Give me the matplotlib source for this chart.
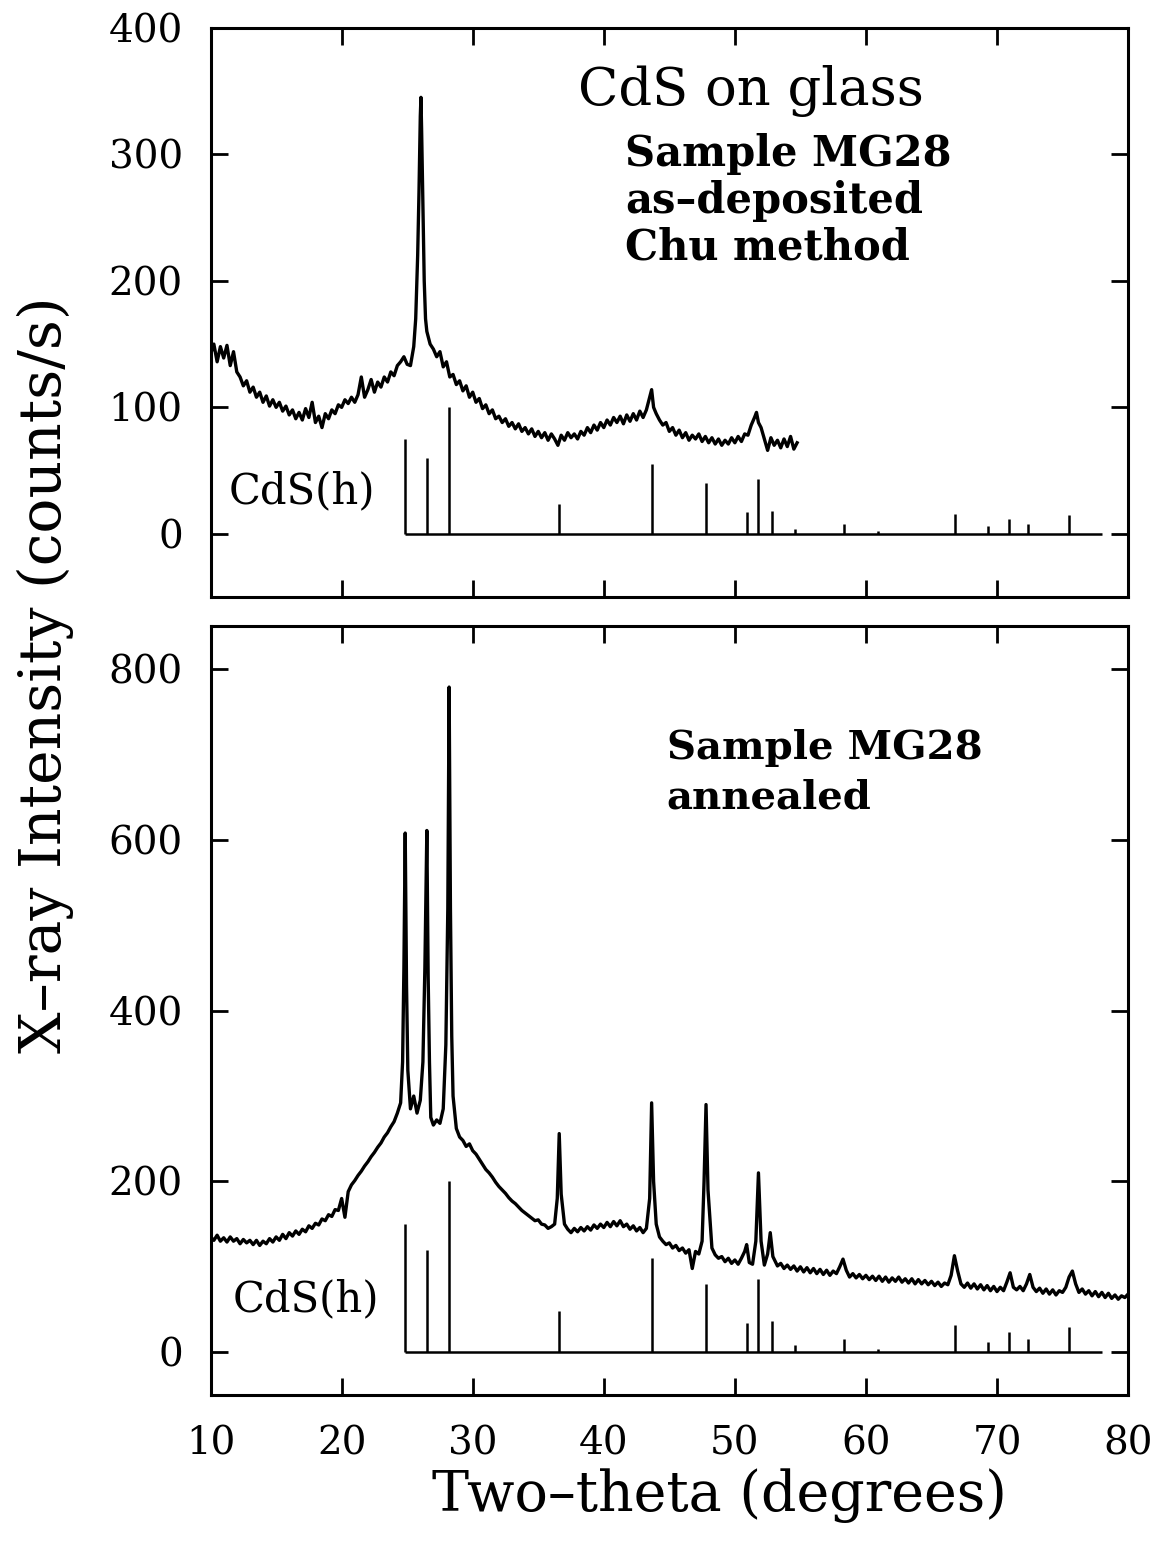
import numpy as np
import matplotlib
matplotlib.use("Agg")
import matplotlib.pyplot as plt

# CdS(h) reference pattern: positions (two-theta) and relative intensities
stick_pos = [24.8, 26.5, 28.2, 36.6, 43.7, 47.8, 50.9, 51.8, 52.8, 54.6,
             58.3, 60.9, 66.8, 69.3, 70.9, 72.4, 75.5]
stick_int = [75, 60, 100, 24, 55, 40, 17, 43, 18, 4,
             8, 2, 16, 6, 12, 8, 15]
stick_end = 78.0

# as-deposited scan (top panel)
top_tt = [10.0, 10.25, 10.5, 10.75, 11.0, 11.25, 11.5, 11.75, 12.0, 12.25,
          12.5, 12.75, 13.0, 13.25, 13.5, 13.75, 14.0, 14.25, 14.5, 14.75,
          15.0, 15.25, 15.5, 15.75, 16.0, 16.25, 16.5, 16.75, 17.0, 17.25,
          17.5, 17.75, 18.0, 18.25, 18.5, 18.75, 19.0, 19.25, 19.5, 19.75,
          20.0, 20.25, 20.5, 20.75, 21.0, 21.25, 21.5, 21.75, 22.0, 22.25,
          22.5, 22.75, 23.0, 23.25, 23.5, 23.75, 24.0, 24.25, 24.5, 24.75,
          25.0, 25.25, 25.5, 25.65, 25.8, 25.9, 26.0, 26.05, 26.1, 26.2,
          26.3, 26.4, 26.5, 26.75, 27.0, 27.25, 27.5, 27.75, 28.0, 28.25,
          28.5, 28.75, 29.0, 29.25, 29.5, 29.75, 30.0, 30.25, 30.5, 30.75,
          31.0, 31.25, 31.5, 31.75, 32.0, 32.25, 32.5, 32.75, 33.0, 33.25,
          33.5, 33.75, 34.0, 34.25, 34.5, 34.75, 35.0, 35.25, 35.5, 35.75,
          36.0, 36.25, 36.5, 36.75, 37.0, 37.25, 37.5, 37.75, 38.0, 38.25,
          38.5, 38.75, 39.0, 39.25, 39.5, 39.75, 40.0, 40.25, 40.5, 40.75,
          41.0, 41.25, 41.5, 41.75, 42.0, 42.25, 42.5, 42.75, 43.0, 43.25,
          43.5, 43.65, 43.8, 44.0, 44.25, 44.5, 44.75, 45.0, 45.25, 45.5,
          45.75, 46.0, 46.25, 46.5, 46.75, 47.0, 47.25, 47.5, 47.75, 48.0,
          48.25, 48.5, 48.75, 49.0, 49.25, 49.5, 49.75, 50.0, 50.25, 50.5,
          50.75, 51.0, 51.25, 51.5, 51.65, 51.8, 52.0, 52.25, 52.5, 52.75,
          53.0, 53.25, 53.5, 53.75, 54.0, 54.25, 54.5, 54.75]
top_cts = [142, 150, 136, 148, 139, 149, 133, 144, 128, 124,
           117, 121, 112, 116, 108, 112, 104, 109, 101, 106,
           100, 104, 97, 101, 94, 98, 91, 96, 90, 99,
           92, 104, 88, 93, 84, 95, 91, 98, 95, 102,
           100, 106, 103, 108, 104, 110, 124, 108, 114, 122,
           112, 120, 116, 124, 120, 128, 125, 133, 136, 140,
           134, 133, 148, 170, 220, 270, 330, 345, 320, 260,
           200, 170, 160, 150, 146, 140, 144, 132, 136, 124,
           126, 118, 121, 113, 117, 108, 112, 104, 107, 99,
           102, 95, 98, 91, 93, 88, 91, 85, 88, 83,
           87, 81, 84, 79, 83, 77, 81, 76, 80, 74,
           79, 75, 70, 78, 74, 80, 76, 79, 75, 81,
           78, 84, 80, 86, 82, 88, 84, 90, 86, 92,
           88, 93, 87, 94, 89, 95, 90, 97, 92, 98,
           108, 114, 100, 95, 90, 86, 88, 81, 84, 78,
           82, 76, 80, 74, 78, 75, 79, 73, 77, 72,
           76, 71, 75, 70, 74, 71, 76, 72, 77, 73,
           79, 78, 86, 92, 96, 88, 84, 75, 66, 76,
           70, 74, 68, 75, 69, 77, 67, 72]

# annealed scan (bottom panel)
bot_tt = [10.0, 10.25, 10.5, 10.75, 11.0, 11.25, 11.5, 11.75, 12.0, 12.25,
          12.5, 12.75, 13.0, 13.25, 13.5, 13.75, 14.0, 14.25, 14.5, 14.75,
          15.0, 15.25, 15.5, 15.75, 16.0, 16.25, 16.5, 16.75, 17.0, 17.25,
          17.5, 17.75, 18.0, 18.25, 18.5, 18.75, 19.0, 19.25, 19.5, 19.75,
          20.0, 20.25, 20.5, 20.75, 21.0, 21.25, 21.5, 21.75, 22.0, 22.25,
          22.5, 22.75, 23.0, 23.25, 23.5, 23.75, 24.0, 24.25, 24.5, 24.65,
          24.75, 24.85, 24.95, 25.05, 25.25, 25.5, 25.75, 26.0, 26.2, 26.35,
          26.5, 26.6, 26.7, 26.8, 27.0, 27.25, 27.5, 27.75, 27.95, 28.1,
          28.2, 28.3, 28.4, 28.5, 28.75, 29.0, 29.25, 29.5, 29.75, 30.0,
          30.25, 30.5, 30.75, 31.0, 31.25, 31.5, 31.75, 32.0, 32.25, 32.5,
          32.75, 33.0, 33.25, 33.5, 33.75, 34.0, 34.25, 34.5, 34.75, 35.0,
          35.25, 35.5, 35.75, 36.0, 36.25, 36.45, 36.6, 36.75, 37.0, 37.25,
          37.5, 37.75, 38.0, 38.25, 38.5, 38.75, 39.0, 39.25, 39.5, 39.75,
          40.0, 40.25, 40.5, 40.75, 41.0, 41.25, 41.5, 41.75, 42.0, 42.25,
          42.5, 42.75, 43.0, 43.25, 43.5, 43.65, 43.8, 44.0, 44.25, 44.5,
          44.75, 45.0, 45.25, 45.5, 45.75, 46.0, 46.25, 46.5, 46.75, 47.0,
          47.25, 47.5, 47.65, 47.8, 47.95, 48.25, 48.5, 48.75, 49.0, 49.25,
          49.5, 49.75, 50.0, 50.25, 50.5, 50.75, 50.9, 51.1, 51.35, 51.6,
          51.8, 52.0, 52.25, 52.5, 52.7, 52.9, 53.25, 53.5, 53.75, 54.0,
          54.25, 54.5, 54.75, 55.0, 55.25, 55.5, 55.75, 56.0, 56.25, 56.5,
          56.75, 57.0, 57.25, 57.5, 57.75, 58.0, 58.25, 58.5, 58.75, 59.0,
          59.25, 59.5, 59.75, 60.0, 60.25, 60.5, 60.75, 61.0, 61.25, 61.5,
          61.75, 62.0, 62.25, 62.5, 62.75, 63.0, 63.25, 63.5, 63.75, 64.0,
          64.25, 64.5, 64.75, 65.0, 65.25, 65.5, 65.75, 66.0, 66.25, 66.5,
          66.75, 67.0, 67.25, 67.5, 67.75, 68.0, 68.25, 68.5, 68.75, 69.0,
          69.25, 69.5, 69.75, 70.0, 70.25, 70.5, 70.75, 71.0, 71.25, 71.5,
          71.75, 72.0, 72.25, 72.5, 72.75, 73.0, 73.25, 73.5, 73.75, 74.0,
          74.25, 74.5, 74.75, 75.0, 75.25, 75.5, 75.75, 76.0, 76.25, 76.5,
          76.75, 77.0, 77.25, 77.5, 77.75, 78.0, 78.25, 78.5, 78.75, 79.0,
          79.25, 79.5, 79.75, 80.0]
bot_cts = [135, 131, 137, 130, 134, 129, 135, 130, 133, 127,
           132, 128, 131, 126, 131, 125, 130, 127, 133, 129,
           135, 131, 138, 133, 140, 136, 142, 138, 144, 141,
           148, 145, 151, 149, 156, 154, 161, 159, 167, 166,
           180, 158, 188, 196, 201, 207, 212, 218, 223, 229,
           234, 240, 245, 252, 257, 264, 270, 280, 292, 340,
           450, 608, 430, 330, 285, 300, 280, 295, 340, 450,
           611, 440, 340, 275, 266, 272, 268, 285, 360, 520,
           779, 520, 370, 300, 262, 252, 248, 241, 244, 236,
           232, 226, 220, 214, 210, 205, 199, 194, 190, 186,
           181, 177, 174, 170, 166, 163, 160, 157, 154, 155,
           150, 149, 145, 147, 150, 180, 256, 185, 150, 144,
           140, 145, 141, 146, 142, 147, 143, 149, 145, 150,
           146, 152, 147, 153, 148, 154, 147, 150, 144, 148,
           142, 146, 140, 145, 180, 292, 200, 150, 135, 130,
           126, 128, 122, 125, 119, 122, 116, 120, 98, 118,
           115, 130, 200, 290, 190, 122, 114, 110, 112, 106,
           110, 104, 108, 103, 110, 118, 126, 105, 103, 130,
           210, 130, 102, 115, 140, 112, 101, 104, 98, 102,
           97, 101, 95, 100, 94, 99, 93, 98, 92, 97,
           91, 96, 90, 95, 92, 100, 109, 96, 88, 92,
           87, 91, 86, 90, 85, 89, 84, 89, 83, 88,
           82, 87, 83, 88, 82, 86, 81, 86, 80, 85,
           80, 84, 79, 83, 78, 82, 77, 81, 79, 90,
           113, 95, 80, 76, 81, 75, 80, 74, 79, 73,
           78, 72, 77, 71, 76, 72, 82, 93, 76, 73,
           77, 72, 80, 91, 76, 71, 75, 69, 74, 68,
           73, 67, 72, 70, 76, 88, 95, 80, 70, 74,
           68, 72, 66, 71, 65, 70, 64, 69, 63, 67,
           62, 66, 64, 68]

FONT = "DejaVu Serif"
plt.rcParams["font.family"] = FONT

fig = plt.figure(figsize=(11.57, 15.43), dpi=100)
ax1 = fig.add_axes([0.182, 0.613, 0.793, 0.369])
ax2 = fig.add_axes([0.182, 0.096, 0.793, 0.498])


def draw_sticks(ax, scale):
    heights = [h * scale for h in stick_int]
    ax.vlines(stick_pos, 0, heights, color="black", lw=1.8)
    ax.hlines(0, stick_pos[0], stick_end, color="black", lw=1.8)


def style(ax, ymin, ymax, ystep):
    ax.set_xlim(10, 80)
    ax.set_ylim(ymin, ymax)
    ax.set_xticks(np.arange(10, 81, 10))
    ax.set_yticks(np.arange(0, ymax + 1, ystep))
    ax.tick_params(direction="in", length=12, width=2.0, top=True, right=True,
                   labelsize=28, pad=20)
    for sp in ax.spines.values():
        sp.set_linewidth(2.2)


ax1.plot(top_tt, top_cts, color="black", lw=2.4)
draw_sticks(ax1, 1)
style(ax1, -50, 400, 100)
ax1.tick_params(labelbottom=False)
ax1.text(38.0, 350, "CdS on glass", fontsize=38, va="center", ha="left")
ax1.text(41.6, 300, "Sample MG28", fontsize=30, va="center", ha="left", fontweight="bold")
ax1.text(41.6, 263, "as\u2013deposited", fontsize=30, va="center", ha="left", fontweight="bold")
ax1.text(41.6, 226, "Chu method", fontsize=30, va="center", ha="left", fontweight="bold")
ax1.text(11.4, 34, "CdS(h)", fontsize=30, va="center", ha="left")

ax2.plot(bot_tt, bot_cts, color="black", lw=2.4)
draw_sticks(ax2, 2)
style(ax2, -50, 850, 200)
ax2.tick_params(axis="x", pad=22)
ax2.text(44.8, 708, "Sample MG28", fontsize=29, va="center", ha="left", fontweight="bold")
ax2.text(44.8, 650, "annealed", fontsize=29, va="center", ha="left", fontweight="bold")
ax2.text(11.7, 62, "CdS(h)", fontsize=30, va="center", ha="left")

fig.text(0.039, 0.563, "X\u2013ray Intensity (counts/s)", rotation=90,
         fontsize=42, ha="center", va="center")
fig.text(0.622, 0.031, "Two\u2013theta (degrees)", fontsize=40,
         ha="center", va="center")

fig.savefig("out.png", dpi=100)
